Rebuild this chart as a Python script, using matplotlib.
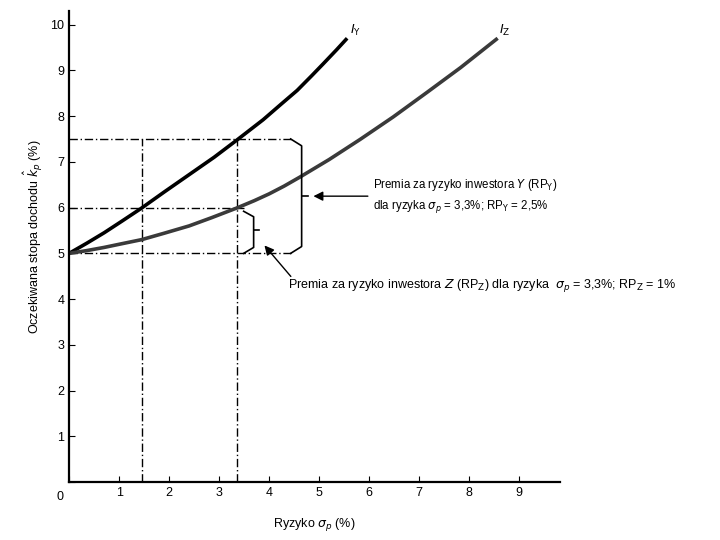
import matplotlib.pyplot as plt

plt.rcParams['font.family'] = ['Liberation Sans', 'DejaVu Sans']

# krzywe obojetnosci
iy_x = [0, 0.35, 0.7, 1.05, 1.45, 1.9, 2.4, 2.9, 3.36, 3.88, 4.25, 4.56, 4.85, 5.08, 5.35, 5.56]
iy_y = [5, 5.22, 5.45, 5.70, 5.99, 6.34, 6.72, 7.1, 7.48, 7.92, 8.27, 8.56, 8.88, 9.14, 9.45, 9.70]
iz_x = [0, 0.35, 0.7, 1.05, 1.45, 1.9, 2.4, 2.85, 3.35, 3.7, 4.0, 4.3, 4.62, 5.2, 5.82,
        6.48, 7.16, 7.83, 8.57]
iz_y = [5, 5.06, 5.13, 5.21, 5.3, 5.44, 5.6, 5.78, 5.99, 6.15, 6.3, 6.47, 6.67, 7.05, 7.49,
        7.98, 8.52, 9.06, 9.70]

sig_y = 1.45   # ryzyko dla k=6 na I_Y
sig_p = 3.35   # ryzyko 3,3%
k_rf = 5
k_z = 6
k_y = 7.5

fig = plt.figure(figsize=(7.2, 5.4), dpi=100)
ax = fig.add_axes([0.096, 0.107, 0.682, 0.873])
ax.set_xlim(0, 9.82)
ax.set_ylim(0, 10.3)

for s in ['top', 'right']:
    ax.spines[s].set_visible(False)
ax.spines['left'].set_linewidth(1.6)
ax.spines['bottom'].set_linewidth(1.6)

ax.set_xticks(range(0, 10))
ax.set_yticks(range(0, 11))
ax.set_xticklabels([''] + [str(i) for i in range(1, 10)])
ax.set_yticklabels([''] + [str(i) for i in range(1, 11)])
ax.tick_params(direction='in', length=4, labelsize=9)
ax.text(-0.12, -0.2, '0', ha='right', va='top', fontsize=9)

# linie pomocnicze
dash = dict(color='black', lw=1.0, ls='-.', dashes=(6, 2, 1, 2))
ax.plot([0, 4.43], [k_y, k_y], **dash)
ax.plot([0, 3.49], [k_z, k_z], **dash)
ax.plot([0, 4.43], [k_rf, k_rf], **dash)
ax.plot([sig_y, sig_y], [0, k_y], **dash)
ax.plot([sig_p, sig_p], [0, k_y], **dash)

# krzywe
ax.plot(iy_x, iy_y, color='black', lw=2.6, solid_capstyle='butt', solid_joinstyle='round')
ax.plot(iz_x, iz_y, color='#3a3a3a', lw=2.6, solid_capstyle='butt', solid_joinstyle='round')
ax.text(5.62, 9.8, '$I_{\\mathrm{Y}}$', fontsize=9)
ax.text(8.6, 9.8, '$I_{\\mathrm{Z}}$', fontsize=9)

# klamry
ax.plot([4.43, 4.65, 4.65, 4.43], [7.5, 7.35, 5.15, 5.0], color='black', lw=1.2)
ax.plot([4.65, 4.77], [6.25, 6.25], color='black', lw=1.2)
ax.plot([3.49, 3.69, 3.69, 3.49], [5.92, 5.8, 5.13, 5.0], color='black', lw=1.2)
ax.plot([3.69, 3.79], [5.5, 5.5], color='black', lw=1.2)

# strzalki i opisy
ax.annotate('', xy=(4.83, 6.25), xytext=(6.03, 6.25),
            arrowprops=dict(arrowstyle='-|>', color='black', lw=1.0,
                            mutation_scale=14))
ax.annotate('', xy=(3.87, 5.22), xytext=(4.47, 4.45),
            arrowprops=dict(arrowstyle='-|>', color='black', lw=1.0,
                            mutation_scale=14))
ax.text(6.07, 6.5, 'Premia za ryzyko inwestora $\\mathit{Y}$ (RP$_{\\mathrm{Y}}$)',
        fontsize=8.3, va='center')
ax.text(6.07, 6.02, 'dla ryzyka $\\sigma_p$ = 3,3%; RP$_{\\mathrm{Y}}$ = 2,5%',
        fontsize=8.3, va='center')
ax.text(4.37, 4.3, 'Premia za ryzyko inwestora $\\mathit{Z}$ (RP$_{\\mathrm{Z}}$) '
        'dla ryzyka  $\\sigma_p$ = 3,3%; RP$_{\\mathrm{Z}}$ = 1%',
        fontsize=9, va='center')

ax.set_xlabel('Ryzyko $\\sigma_p$ (%)', fontsize=9, labelpad=12)
ax.set_ylabel('Oczekiwana stopa dochodu $\\hat{k}_p$ (%)', fontsize=9)
ax.yaxis.set_label_coords(-0.05, 0.52)

fig.savefig('out.png', dpi=100)
